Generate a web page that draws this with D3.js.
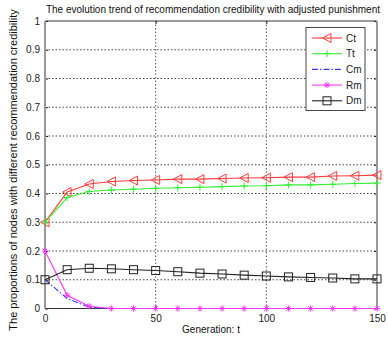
<!DOCTYPE html>
<html>
<head>
<meta charset="utf-8">
<script src="https://cdn.jsdelivr.net/npm/d3@7"></script>
<style>
  body { margin: 0; background: #fff; }
  svg { display: block; font-family: "Liberation Sans", Arial, sans-serif; }
</style>
</head>
<body>
<svg id="chart" width="388" height="341"></svg>
<script>
// Generation steps (sampled every 10)
const generations = [0, 10, 20, 30, 40, 50, 60, 70, 80, 90, 100, 110, 120, 130, 140, 150];

// Proportions of nodes per credibility class
const ct = [0.300, 0.405, 0.433, 0.442, 0.445, 0.447, 0.450, 0.450, 0.452, 0.454, 0.455, 0.457, 0.457, 0.461, 0.462, 0.464];
const tt = [0.300, 0.386, 0.407, 0.412, 0.415, 0.418, 0.420, 0.422, 0.424, 0.426, 0.427, 0.430, 0.430, 0.432, 0.435, 0.436];
const cm = [0.100, 0.035, 0.004, 0.000, 0.000, 0.000, 0.000, 0.000, 0.000, 0.000, 0.000, 0.000, 0.000, 0.000, 0.000, 0.000];
const rm = [0.200, 0.046, 0.008, 0.000, 0.000, 0.000, 0.000, 0.000, 0.000, 0.000, 0.000, 0.000, 0.000, 0.000, 0.000, 0.000];
const dm = [0.100, 0.135, 0.140, 0.138, 0.135, 0.132, 0.128, 0.123, 0.120, 0.116, 0.113, 0.110, 0.108, 0.106, 0.103, 0.103];

const xTicks = [0, 50, 100, 150];
const yTicks = [0, 0.1, 0.2, 0.3, 0.4, 0.5, 0.6, 0.7, 0.8, 0.9, 1];

const seriesNames = ["Ct", "Tt", "Cm", "Rm", "Dm"];
const seriesValues = [ct, tt, cm, rm, dm];

const titleText = "The evolution trend of recommendation credibility with adjusted punishment";
const xLabel = "Generation: t";
const yLabel = "The proportions of nodes with different recommendation credibility";

const styles = {
  Ct: { color: "#ff3a3a", marker: "tri", dash: null },
  Tt: { color: "#33ee33", marker: "plus", dash: null },
  Cm: { color: "#3a3aff", marker: null, dash: "6,2,1.5,2" },
  Rm: { color: "#ff33ff", marker: "star", dash: null },
  Dm: { color: "#222222", marker: "square", dash: null }
};

const svg = d3.select("#chart");
const L = 45, R = 377, T = 21, B = 308.5;

const x = d3.scaleLinear().domain([0, 150]).range([L, R]);
const y = d3.scaleLinear().domain([0, 1]).range([B, T]);

// dotted grid
const grid = svg.append("g");
grid.selectAll("line.gx").data(xTicks.filter(d => d > 0 && d < 150)).enter()
  .append("line")
  .attr("x1", d => x(d)).attr("x2", d => x(d))
  .attr("y1", T).attr("y2", B)
  .attr("stroke", "#555").attr("stroke-width", 1).attr("stroke-dasharray", "1.5,2");
grid.selectAll("line.gy").data(yTicks.filter(d => d > 0 && d < 1)).enter()
  .append("line")
  .attr("x1", L).attr("x2", R)
  .attr("y1", d => y(d)).attr("y2", d => y(d))
  .attr("stroke", "#444").attr("stroke-width", 1).attr("stroke-dasharray", "1.5,2");

// axes
const xAxis = d3.axisBottom(x).tickValues(xTicks).tickSize(-3).tickPadding(6).tickFormat(d3.format("d"));
const yAxis = d3.axisLeft(y).tickValues(yTicks).tickSize(-3).tickPadding(5).tickFormat(d => d === 0 || d === 1 ? String(d) : d3.format(".1f")(d));

const gx = svg.append("g").attr("transform", `translate(0,${B})`).call(xAxis);
const gy = svg.append("g").attr("transform", `translate(${L},0)`).call(yAxis);
[gx, gy].forEach(g => {
  g.select(".domain").remove();
  g.selectAll("line").attr("stroke", "#222");
  g.selectAll("text").attr("fill", "#222").attr("font-size", 10);
});
// top axis ticks and right axis ticks
const xTop = d3.axisTop(x).tickValues(xTicks).tickSize(-3).tickFormat("");
const yRight = d3.axisRight(y).tickValues(yTicks).tickSize(-3).tickFormat("");
svg.append("g").attr("transform", `translate(0,${T})`).call(xTop).call(g => g.select(".domain").remove()).selectAll("line").attr("stroke", "#222");
svg.append("g").attr("transform", `translate(${R},0)`).call(yRight).call(g => g.select(".domain").remove()).selectAll("line").attr("stroke", "#222");

// frame
svg.append("line").attr("x1", L).attr("x2", R).attr("y1", T).attr("y2", T).attr("stroke", "#333").attr("stroke-width", 1);
svg.append("line").attr("x1", L).attr("x2", R).attr("y1", B).attr("y2", B).attr("stroke", "#333").attr("stroke-width", 1);
svg.append("line").attr("x1", L).attr("x2", L).attr("y1", T).attr("y2", B).attr("stroke", "#999").attr("stroke-width", 2);
svg.append("line").attr("x1", R).attr("x2", R).attr("y1", T).attr("y2", B).attr("stroke", "#999").attr("stroke-width", 2);

// marker drawing
function drawMarker(g, type, cx, cy, color) {
  if (type === "tri") {
    g.append("path")
      .attr("d", `M${cx - 4.5},${cy} L${cx + 4},${cy - 4.5} L${cx + 4},${cy + 4.5} Z`)
      .attr("fill", "none").attr("stroke", color).attr("stroke-width", 1);
  } else if (type === "plus") {
    g.append("path")
      .attr("d", `M${cx - 3.5},${cy} H${cx + 3.5} M${cx},${cy - 3.5} V${cy + 3.5}`)
      .attr("stroke", color).attr("stroke-width", 1);
  } else if (type === "star") {
    g.append("path")
      .attr("d", `M${cx - 3},${cy} H${cx + 3} M${cx},${cy - 3} V${cy + 3} M${cx - 2.2},${cy - 2.2} L${cx + 2.2},${cy + 2.2} M${cx - 2.2},${cy + 2.2} L${cx + 2.2},${cy - 2.2}`)
      .attr("stroke", color).attr("stroke-width", 1);
  } else if (type === "square") {
    g.append("rect")
      .attr("x", cx - 4).attr("y", cy - 4).attr("width", 8).attr("height", 8)
      .attr("fill", "none").attr("stroke", color).attr("stroke-width", 1);
  }
}

const line = d3.line().x((d, i) => x(generations[i])).y(d => y(d));

const plot = svg.append("g");
seriesNames.forEach((name, k) => {
  const st = styles[name];
  const vals = seriesValues[k];
  const g = plot.append("g");
  g.append("path").datum(vals)
    .attr("d", line)
    .attr("fill", "none")
    .attr("stroke", st.color)
    .attr("stroke-width", 1.1)
    .attr("stroke-dasharray", st.dash);
  if (st.marker) {
    vals.forEach((v, i) => drawMarker(g, st.marker, x(generations[i]), y(v), st.color));
  }
});

// legend
const lg = svg.append("g");
const lx0 = 306, ly0 = 27.5, lw = 59, lh = 83;
lg.append("rect").attr("x", lx0).attr("y", ly0).attr("width", lw).attr("height", lh)
  .attr("fill", "#fff").attr("stroke", "#444").attr("stroke-width", 1);
seriesNames.forEach((name, k) => {
  const st = styles[name];
  const cy = 38 + k * 15.7;
  lg.append("line").attr("x1", 312).attr("x2", 342).attr("y1", cy).attr("y2", cy)
    .attr("stroke", st.color).attr("stroke-width", 1.1).attr("stroke-dasharray", st.dash);
  if (st.marker) drawMarker(lg, st.marker, 327, cy, st.color);
  lg.append("text").attr("x", 346).attr("y", cy + 3.5).attr("font-size", 10).attr("fill", "#222").text(name);
});

// title and axis labels
svg.append("text").attr("x", (L + R) / 2 + 2).attr("y", 13).attr("text-anchor", "middle")
  .attr("font-size", 10).attr("fill", "#111").text(titleText);
svg.append("text").attr("x", (L + R) / 2).attr("y", 333).attr("text-anchor", "middle")
  .attr("font-size", 10).attr("fill", "#111").text(xLabel);
svg.append("text").attr("transform", `translate(17,170) rotate(-90)`).attr("text-anchor", "middle")
  .attr("font-size", 11).attr("fill", "#111").text(yLabel);
</script>
</body>
</html>
